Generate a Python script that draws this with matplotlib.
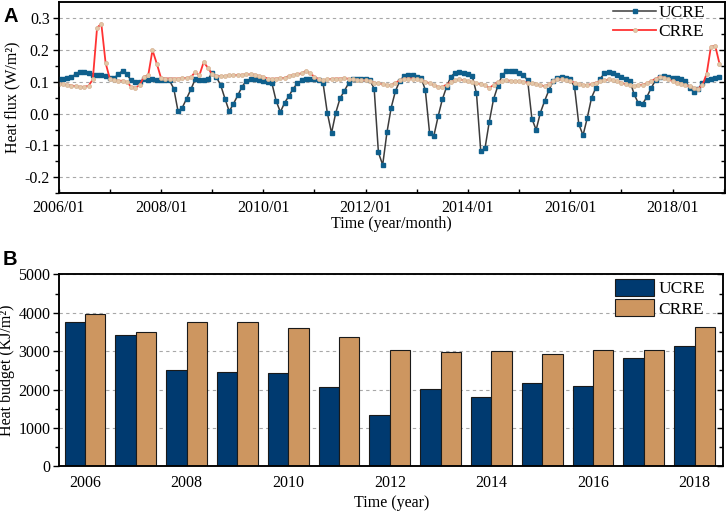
import matplotlib
matplotlib.use("Agg")
import matplotlib.pyplot as plt
import numpy as np
from matplotlib.ticker import FixedLocator, MultipleLocator, FormatStrFormatter

# ---------------- data ----------------
# Panel A: monthly heat flux (W/m^2), 2006/01 .. 2018/12
ucre_flux = [
    0.110, 0.110, 0.112, 0.116, 0.123, 0.132, 0.132, 0.128, 0.122, 0.122, 0.120, 0.118,
    0.112, 0.112, 0.123, 0.135, 0.123, 0.104, 0.099, 0.099, 0.107, 0.105, 0.107, 0.106,
    0.106, 0.105, 0.104, 0.078, 0.007, 0.019, 0.047, 0.076, 0.107, 0.104, 0.105, 0.107,
    0.128, 0.114, 0.089, 0.047, 0.007, 0.031, 0.057, 0.084, 0.103, 0.107, 0.107, 0.104,
    0.103, 0.099, 0.096, 0.040, 0.005, 0.034, 0.055, 0.078, 0.095, 0.104, 0.109, 0.110,
    0.107, 0.104, 0.097, 0.003, -0.061, 0.003, 0.048, 0.071, 0.095, 0.107, 0.110, 0.110,
    0.107, 0.105, 0.078, -0.122, -0.161, -0.059, 0.019, 0.071, 0.102, 0.118, 0.120, 0.120,
    0.116, 0.113, 0.074, -0.061, -0.070, -0.009, 0.045, 0.084, 0.116, 0.128, 0.130, 0.128,
    0.123, 0.118, 0.064, -0.117, -0.109, -0.026, 0.045, 0.086, 0.120, 0.133, 0.135, 0.133,
    0.126, 0.120, 0.105, -0.016, -0.051, 0.003, 0.040, 0.074, 0.102, 0.113, 0.116, 0.113,
    0.107, 0.084, -0.033, -0.068, -0.013, 0.050, 0.081, 0.109, 0.126, 0.130, 0.126, 0.120,
    0.116, 0.109, 0.102, 0.060, 0.032, 0.031, 0.053, 0.081, 0.104, 0.116, 0.118, 0.115,
    0.112, 0.111, 0.107, 0.102, 0.081, 0.068, 0.076, 0.097, 0.104, 0.107, 0.113, 0.114,
]
crre_flux = [
    0.094, 0.092, 0.090, 0.088, 0.086, 0.084, 0.084, 0.087, 0.107, 0.269, 0.282, 0.159,
    0.109, 0.104, 0.103, 0.103, 0.099, 0.084, 0.081, 0.089, 0.116, 0.120, 0.199, 0.157,
    0.112, 0.110, 0.110, 0.110, 0.110, 0.111, 0.112, 0.114, 0.130, 0.120, 0.161, 0.144,
    0.123, 0.118, 0.118, 0.118, 0.120, 0.120, 0.121, 0.122, 0.123, 0.123, 0.122, 0.118,
    0.115, 0.110, 0.109, 0.110, 0.111, 0.112, 0.118, 0.121, 0.124, 0.126, 0.134, 0.126,
    0.116, 0.107, 0.105, 0.107, 0.109, 0.110, 0.110, 0.111, 0.109, 0.107, 0.105, 0.104,
    0.104, 0.102, 0.097, 0.095, 0.092, 0.089, 0.089, 0.097, 0.104, 0.109, 0.110, 0.110,
    0.107, 0.104, 0.100, 0.095, 0.089, 0.084, 0.084, 0.091, 0.099, 0.104, 0.107, 0.105,
    0.102, 0.099, 0.095, 0.092, 0.089, 0.081, 0.089, 0.099, 0.102, 0.104, 0.103, 0.101,
    0.101, 0.100, 0.097, 0.095, 0.092, 0.089, 0.086, 0.092, 0.102, 0.107, 0.107, 0.104,
    0.102, 0.097, 0.092, 0.090, 0.090, 0.092, 0.097, 0.102, 0.104, 0.107, 0.105, 0.101,
    0.097, 0.092, 0.089, 0.086, 0.089, 0.091, 0.095, 0.102, 0.109, 0.116, 0.113, 0.107,
    0.102, 0.097, 0.092, 0.089, 0.085, 0.080, 0.078, 0.089, 0.125, 0.210, 0.213, 0.157,
]
flux_tick_labels = ["2006/01", "2008/01", "2010/01", "2012/01", "2014/01", "2016/01", "2018/01"]

# Panel B: annual heat budget (KJ/m^2)
years = [2006, 2007, 2008, 2009, 2010, 2011, 2012, 2013, 2014, 2015, 2016, 2017, 2018]
ucre_budget = [3750, 3430, 2510, 2460, 2420, 2070, 1340, 2010, 1800, 2170, 2080, 2830, 3130]
crre_budget = [3970, 3500, 3760, 3760, 3590, 3360, 3040, 2975, 2990, 2930, 3030, 3020, 3620]
budget_tick_years = [2006, 2008, 2010, 2012, 2014, 2016, 2018]

# ---------------- style ----------------
plt.rcParams["font.family"] = ["Liberation Serif", "DejaVu Serif"]
plt.rcParams["font.size"] = 11.5
plt.rcParams["axes.linewidth"] = 1.1

W, H = 726, 513
fig = plt.figure(figsize=(W / 100, H / 100), dpi=100)

def frac_axes(l, t, r, b):
    return fig.add_axes([l / W, 1 - b / H, (r - l) / W, (b - t) / H])

axA = frac_axes(58.7, 2.0, 725.0, 193.3)
axB = frac_axes(59.3, 274.3, 723.3, 466.3)

GRID = dict(color="#a8a8a8", lw=0.8, ls=(0, (3, 3)))

# ---------------- Panel A ----------------
months = np.arange(len(ucre_flux))
axA.plot(months, ucre_flux, color="#3c3c3c", lw=1.1, marker="s", ms=3.3,
         mfc="#0f5f8c", mec="#0f5f8c", label="UCRE", zorder=3)
axA.plot(months, crre_flux, color="#ff3333", lw=1.3, marker="o", ms=2.9,
         mfc="#e3c7a8", mec="#d6b292", mew=0.5, label="CRRE", zorder=4)

axA.set_xlim(0, 156.3)
axA.set_ylim(-0.25, 0.35)
xt = np.arange(0, 157, 12)
axA.xaxis.set_major_locator(FixedLocator(xt))
axA.set_xticklabels([flux_tick_labels[i // 2] if i % 2 == 0 else "" for i in range(len(xt))])
axA.yaxis.set_major_locator(FixedLocator([-0.2, -0.1, 0.0, 0.1, 0.2, 0.3]))
axA.yaxis.set_minor_locator(FixedLocator([-0.25, -0.15, -0.05, 0.05, 0.15, 0.25]))
axA.yaxis.set_major_formatter(FormatStrFormatter("%.1f"))
axA.grid(axis="y", which="major", **GRID)
axA.tick_params(axis="y", which="both", direction="out", left=True, right=False, pad=2)
axA.tick_params(axis="y", which="major", length=4.5, width=1.0)
axA.tick_params(axis="y", which="minor", length=3, width=1.0)
axA.tick_params(axis="x", which="major", direction="in", length=3, width=1.0, top=False, pad=5)

axA.set_ylabel("Heat flux (W/m²)")
axA.yaxis.set_label_coords(-0.0575, 0.5)
axA.set_xlabel("Time (year/month)")
axA.xaxis.set_label_coords(0.5, -0.117)

rA = axA.twinx()
rA.set_ylim(axA.get_ylim())
rA.yaxis.set_major_locator(FixedLocator([-0.2, -0.1, 0.0, 0.1, 0.2, 0.3]))
rA.yaxis.set_minor_locator(FixedLocator([-0.25, -0.15, -0.05, 0.05, 0.15, 0.25]))
rA.tick_params(axis="y", which="both", direction="in", labelright=False, width=1.0)
rA.tick_params(axis="y", which="major", length=4.5)
rA.tick_params(axis="y", which="minor", length=3)

axA.legend(loc="upper right", bbox_to_anchor=(0.97, 0.985), frameon=False,
           borderpad=0, borderaxespad=0, handlelength=2.45, handletextpad=0.15,
           labelspacing=0.15, fontsize=12.5)

fig.text(3 / W, 1 - 22 / H, "A", family=["Liberation Sans", "DejaVu Sans"],
         fontweight="bold", fontsize=14.5, va="baseline", ha="left")

# ---------------- Panel B ----------------
yrs = np.array(years, dtype=float)
bw = 0.4
axB.set_axisbelow(True)
axB.bar(yrs - bw / 2, ucre_budget, width=bw, color="#003a70", edgecolor="#1a1a1a",
        lw=0.8, label="UCRE", zorder=2)
axB.bar(yrs + bw / 2, crre_budget, width=bw, color="#cd9660", edgecolor="#1a1a1a",
        lw=0.8, label="CRRE", zorder=2)
axB.set_xlim(2005.494, 2018.565)
axB.set_ylim(0, 5000)
axB.set_xticks(budget_tick_years)
axB.set_xticklabels([str(y) for y in budget_tick_years])
axB.yaxis.set_major_locator(MultipleLocator(1000))
axB.yaxis.set_minor_locator(MultipleLocator(500))
axB.grid(axis="y", which="major", **GRID)
axB.tick_params(axis="y", which="both", direction="out", left=True, right=False, pad=2)
axB.tick_params(axis="y", which="major", length=4.5, width=1.0)
axB.tick_params(axis="y", which="minor", length=3, width=1.0)
axB.tick_params(axis="x", which="major", direction="in", length=0, pad=6)

axB.set_ylabel("Heat budget (KJ/m²)")
axB.yaxis.set_label_coords(-0.0665, 0.5)
axB.set_xlabel("Time (year)")
axB.xaxis.set_label_coords(0.5, -0.15)

rB = axB.twinx()
rB.set_ylim(axB.get_ylim())
rB.yaxis.set_major_locator(MultipleLocator(1000))
rB.yaxis.set_minor_locator(MultipleLocator(500))
rB.tick_params(axis="y", which="both", direction="in", labelright=False, width=1.0)
rB.tick_params(axis="y", which="major", length=4.5)
rB.tick_params(axis="y", which="minor", length=3)

axB.legend(loc="upper right", bbox_to_anchor=(0.9724, 0.975), frameon=False,
           borderpad=0, borderaxespad=0, handlelength=2.25, handleheight=1.1,
           handletextpad=0.25, labelspacing=0.12, fontsize=12.5)

fig.text(3 / W, 1 - 265 / H, "B", family=["Liberation Sans", "DejaVu Sans"],
         fontweight="bold", fontsize=14.5, va="baseline", ha="left")

fig.savefig("out.png", dpi=100)
